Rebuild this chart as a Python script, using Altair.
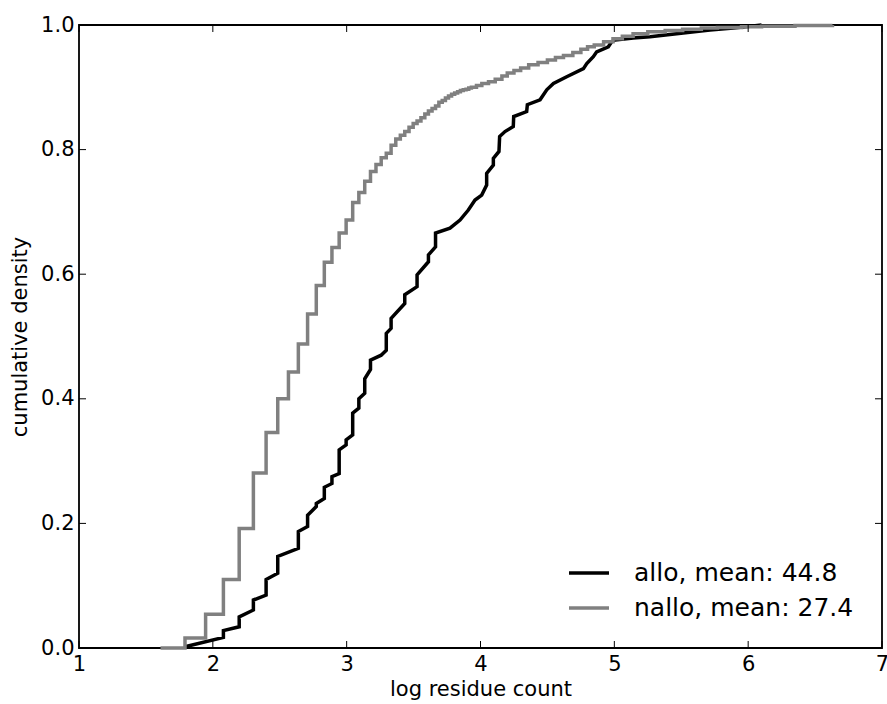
import altair as alt
import pandas as pd

# ---- data ----
labels = ["allo, mean: 44.8", "nallo, mean: 27.4"]
series_colors = ["black", "#808080"]

allo_x = [1.792, 2.079, 2.079, 2.197, 2.197, 2.303, 2.303, 2.398, 2.398, 2.485, 2.485,
          2.639, 2.639, 2.708, 2.708, 2.773, 2.773, 2.833, 2.833, 2.890, 2.890, 2.944,
          2.944, 2.996, 2.996, 3.045, 3.045, 3.091, 3.091, 3.135, 3.135, 3.178, 3.178,
          3.258, 3.296, 3.296, 3.332, 3.332, 3.434, 3.434, 3.526, 3.526, 3.611, 3.611,
          3.664, 3.664, 3.772, 3.847, 3.909, 3.959, 4.009, 4.046, 4.046, 4.096, 4.096,
          4.138, 4.143, 4.183, 4.245, 4.248, 4.345, 4.350, 4.445, 4.495, 4.545, 4.644,
          4.769, 4.794, 4.843, 4.868, 4.955, 4.980, 5.005, 5.142, 5.267, 5.515, 5.715,
          5.890, 6.100]
allo_y = [0.002, 0.017, 0.028, 0.034, 0.050, 0.061, 0.077, 0.085, 0.110, 0.120, 0.147,
          0.160, 0.187, 0.195, 0.213, 0.227, 0.232, 0.240, 0.258, 0.264, 0.275, 0.280,
          0.318, 0.326, 0.334, 0.342, 0.377, 0.385, 0.400, 0.409, 0.432, 0.447, 0.462,
          0.470, 0.478, 0.505, 0.513, 0.529, 0.553, 0.567, 0.580, 0.599, 0.620, 0.631,
          0.644, 0.666, 0.674, 0.687, 0.703, 0.719, 0.727, 0.743, 0.762, 0.775, 0.786,
          0.797, 0.821, 0.829, 0.837, 0.853, 0.861, 0.872, 0.880, 0.896, 0.906, 0.917,
          0.930, 0.938, 0.949, 0.957, 0.965, 0.973, 0.976, 0.979, 0.981, 0.987, 0.992,
          0.995, 1.000]

nallo_x = [1.609, 1.792, 1.946, 2.079, 2.197, 2.303, 2.398, 2.485, 2.565, 2.639, 2.708,
           2.773, 2.833, 2.890, 2.944, 2.996, 3.045, 3.091, 3.135, 3.178, 3.219, 3.258,
           3.296, 3.332, 3.367, 3.401, 3.434, 3.466, 3.497, 3.526, 3.555, 3.584, 3.611,
           3.638, 3.664, 3.689, 3.714, 3.738, 3.761, 3.784, 3.807, 3.829, 3.850, 3.871,
           3.892, 3.912, 3.932, 3.970, 4.010, 4.060, 4.110, 4.160, 4.200, 4.250, 4.300,
           4.360, 4.430, 4.500, 4.560, 4.620, 4.690, 4.750, 4.800, 4.850, 4.920, 4.990,
           5.060, 5.140, 5.250, 5.380, 5.510, 5.650, 5.770, 5.950, 6.100, 6.350, 6.630]
nallo_y = [0.000, 0.016, 0.054, 0.110, 0.192, 0.281, 0.346, 0.400, 0.443, 0.488, 0.536,
           0.582, 0.619, 0.643, 0.666, 0.687, 0.715, 0.731, 0.749, 0.765, 0.776, 0.787,
           0.794, 0.807, 0.817, 0.823, 0.829, 0.836, 0.842, 0.846, 0.851, 0.857, 0.862,
           0.866, 0.870, 0.876, 0.879, 0.883, 0.886, 0.889, 0.891, 0.893, 0.895, 0.896,
           0.897, 0.899, 0.900, 0.903, 0.906, 0.909, 0.913, 0.918, 0.923, 0.927, 0.931,
           0.936, 0.940, 0.944, 0.948, 0.951, 0.956, 0.961, 0.965, 0.968, 0.973, 0.978,
           0.982, 0.986, 0.989, 0.991, 0.993, 0.995, 0.996, 0.997, 0.998, 0.999, 1.000]

x_ticks = [1, 2, 3, 4, 5, 6, 7]
y_ticks = [0.0, 0.2, 0.4, 0.6, 0.8, 1.0]

x_title = "log residue count"
y_title = "cumulative density"

# ---- tables ----
df_allo = pd.DataFrame({"x": allo_x, "y": allo_y, "series": labels[0],
                        "i": list(range(len(allo_x)))})
df_nallo = pd.DataFrame({"x": nallo_x, "y": nallo_y, "series": labels[1],
                         "i": list(range(len(nallo_x)))})
df_xt = pd.DataFrame({"x": x_ticks})
df_yt = pd.DataFrame({"y": y_ticks})

W, H = 803, 623
TICK = 7
FONT = "DejaVu Sans"

xscale = alt.Scale(domain=[1, 7], nice=False, zero=False)
yscale = alt.Scale(domain=[0, 1], nice=False, zero=False)

color = alt.Color(
    "series:N",
    scale=alt.Scale(domain=labels, range=series_colors),
    legend=alt.Legend(
        title=None, orient="none", legendX=488, legendY=526,
        symbolType="stroke", symbolSize=1600, symbolStrokeWidth=3.5,
        labelFontSize=25, labelFont=FONT, labelColor="black", labelLimit=500,
        labelOffset=23, padding=0, rowPadding=-3,
    ),
)

x_enc = alt.X("x:Q", scale=xscale,
              axis=alt.Axis(values=x_ticks, format="d", title=x_title,
                            labelPadding=5, titlePadding=4, labelFlush=False))
y_enc = alt.Y("y:Q", scale=yscale,
              axis=alt.Axis(values=y_ticks, format=".1f", title=y_title,
                            labelPadding=5, titlePadding=10, labelFlush=False))

black_line = alt.Chart(df_allo).mark_line(strokeWidth=3.5, interpolate="linear").encode(
    x=x_enc, y=y_enc, color=color, order=alt.Order("i:Q"))
grey_line = alt.Chart(df_nallo).mark_line(strokeWidth=3.5, interpolate="step-after").encode(
    x=x_enc, y=y_enc, color=color, order=alt.Order("i:Q"))

# inward tick marks on all four sides (matplotlib classic style)
bottom_ticks = alt.Chart(df_xt).mark_rule(color="black", strokeWidth=1).encode(
    x=x_enc, y=alt.value(H), y2=alt.value(H - TICK))
top_ticks = alt.Chart(df_xt).mark_rule(color="black", strokeWidth=1).encode(
    x=x_enc, y=alt.value(0), y2=alt.value(TICK))
left_ticks = alt.Chart(df_yt).mark_rule(color="black", strokeWidth=1).encode(
    y=y_enc, x=alt.value(0), x2=alt.value(TICK))
right_ticks = alt.Chart(df_yt).mark_rule(color="black", strokeWidth=1).encode(
    y=y_enc, x=alt.value(W), x2=alt.value(W - TICK))

chart = alt.layer(
    black_line, grey_line, bottom_ticks, top_ticks, left_ticks, right_ticks
).properties(
    width=W, height=H,
    background="white",
    autosize=alt.AutoSizeParams(type="none"),
    padding={"left": 79, "top": 25, "right": 5, "bottom": 56},
).configure_view(
    stroke="black", strokeWidth=1.8
).configure_axis(
    ticks=False, domain=False, grid=False,
    labelFont=FONT, labelFontSize=21, labelColor="black",
    titleFont=FONT, titleFontSize=21, titleFontWeight="normal", titleColor="black",
)

chart.save("out.html", embed_options={"renderer": "svg", "actions": False})
